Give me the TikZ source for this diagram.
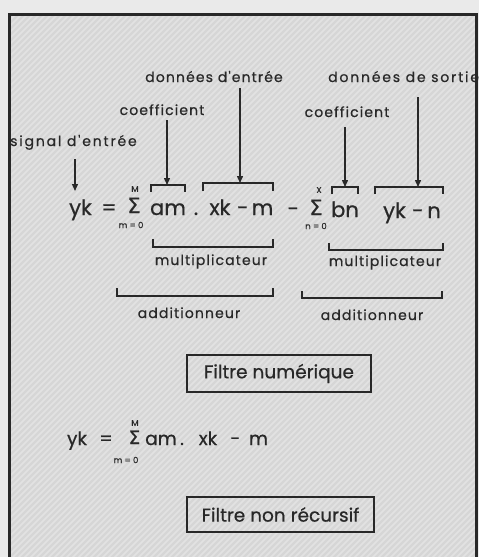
\documentclass[tikz,border=0pt]{standalone}
\usepackage{fontspec}
\setmainfont{Poppins}[FakeBold=0.6]
\newfontfamily\lblfont{Poppins}[FakeBold=0.6,LetterSpace=8]
\newfontfamily\lblwidefont{Poppins}[FakeBold=0.6,LetterSpace=13]
\newfontfamily\symfont{DejaVu Sans}[FakeBold=0.5]
\usetikzlibrary{arrows.meta,calc}
\definecolor{bgout}{RGB}{234,234,234}
\definecolor{bgin}{RGB}{214,214,214}
\definecolor{ink}{RGB}{40,40,40}
\begin{document}
\begin{tikzpicture}[x=1pt,y=-1pt,
  lbl/.style={font=\lblfont\fontsize{14}{16}\selectfont, text=ink, inner sep=0pt, anchor=base},
  lblw/.style={font=\lblwidefont\fontsize{14}{16}\selectfont, text=ink, inner sep=0pt, anchor=base west},
  eqf/.style={font=\fontsize{21}{24}\selectfont, text=ink, inner sep=0pt, anchor=base},
  eqs/.style={font=\fontsize{18.5}{21}\selectfont, text=ink, inner sep=0pt, anchor=base},
  sig/.style={font=\symfont\fontsize{21}{23}\selectfont, text=ink, inner sep=0pt, anchor=base},
  sigs/.style={font=\symfont\fontsize{18.5}{21}\selectfont, text=ink, inner sep=0pt, anchor=base},
  lim/.style={font=\fontsize{8.5}{9}\selectfont, text=ink, inner sep=0pt},
  brk/.style={draw=ink, line width=1.8pt},
  arr/.style={draw=ink, line width=1.4pt, -{Triangle[length=7pt,width=6pt]}},
  filt/.style={draw=ink, line width=2.2pt, font=\fontsize{18.5}{21}\selectfont, text=ink, inner sep=0pt}]
\useasboundingbox (0,0) rectangle (479,557);
\fill[bgout] (0,0) rectangle (479,557);
\fill[bgin] (9,14) rectangle (476,560);
\begin{scope}
  \clip (9,14) rectangle (476,557);
  \foreach \i in {0,6,...,1040} \draw[white, opacity=0.3, line width=1.6pt] (\i-560,560) -- (\i,0);
\end{scope}
\draw[ink, line width=3pt] (9,562) -- (9,14) -- (476,14) -- (476,562);

% labels
\node[lbl] (dEnt) at (214,82) {données d'entrée};
\node[lblw] (dSor) at (328,82) {données de sortie};
\node[lbl] (coefL) at (162,115) {coefficient};
\node[lbl] (coefR) at (347,117) {coefficient};
\node[lblw] (sigIn) at (10,146) {signal d'entrée};

% first equation
\node[eqf] (yk1) at (80.5,215) {yk};
\node[eqf] (eq1) at (109,215) {=};
\node[sig] (S1) at (134,213) {Σ};
\node[lim] (S1t) at (135,189) {M};
\node[lim] (S1b) at (131,225) {m = 0};
\node[eqf] (am1) at (168,215) {am};
\node[eqf] (dot1) at (196,215) {.};
\node[eqf] (xk1) at (220,215) {xk};
\node[eqf] (mn1) at (242.5,215) {−};
\node[eqf] (m1) at (262.5,215) {m};
\node[eqf] (minus) at (293,216) {−};
\node[sig] (S2) at (316,215) {Σ};
\node[lim] (S2t) at (319,190) {X};
\node[lim] (S2b) at (316,226) {n = 0};
\node[eqf] (bn) at (345,217) {bn};
\node[eqf] (yk2) at (394.5,218) {yk};
\node[eqf] (mn2) at (417.5,218) {−};
\node[eqf] (n2) at (434,218) {n};

% top brackets
\coordinate (tAm) at (167,185);
\coordinate (tXk) at (240,183);
\coordinate (tBn) at (345,187);
\coordinate (tYk) at (418,187);
\coordinate (tSig) at (75,191);
\draw[brk] (151,192) -- (151,185) -- (185,185) -- (185,192);
\draw[brk] (203,191) -- (203,183) -- (273,183) -- (273,191);
\draw[brk] (332,194) -- (332,187) -- (358,187) -- (358,194);
\draw[brk] (375,194) -- (375,187) -- (443,187) -- (443,194);

% arrows
\draw[arr] ($(sigIn.south -| tSig)+(0,9)$) -- (tSig);
\draw[arr] ($(coefL.south -| tAm)+(0,5)$) -- (tAm);
\draw[arr] ($(dEnt.south -| tXk)+(0,6)$) -- (tXk);
\draw[arr] ($(coefR.south -| tBn)+(0,10)$) -- (tBn);
\draw[arr] ($(dSor.south -| tYk)+(0,15)$) -- (tYk);

% bottom brackets
\draw[brk] (153,239) -- (153,247) -- (273,247) -- (273,239);
\draw[brk] (329,243) -- (329,250) -- (443,250) -- (443,243);
\draw[brk] (117,288) -- (117,296) -- (273,296) -- (273,288);
\draw[brk] (302,291) -- (302,298) -- (442,298) -- (442,291);
\node[lbl] (mulL) at (211,265) {multiplicateur};
\node[lbl] (mulR) at (385,266) {multiplicateur};
\node[lbl] (addL) at (189,318) {additionneur};
\node[lbl] (addR) at (372,320) {additionneur};

% filter boxes
\node[filt, minimum width=184pt, minimum height=37pt] (fNum) at (279,373.5) {Filtre numérique};
\node[filt, minimum width=187pt, minimum height=35pt] (fNon) at (280.5,514.5) {Filtre non récursif};

% second equation
\node[eqs] (yk3) at (77,445) {yk};
\node[eqs] (eq3) at (106,445) {=};
\node[sigs] (S3) at (134.5,444) {Σ};
\node[lim] (S3t) at (135,423) {M};
\node[lim] (S3b) at (126,460) {m = 0};
\node[eqs] (am3) at (161,445) {am};
\node[eqs] (dot3) at (182,445) {.};
\node[eqs] (xk3) at (208,445) {xk};
\node[eqs] (mn3) at (235,445) {−};
\node[eqs] (m3) at (258.5,445) {m};
\end{tikzpicture}
\end{document}
